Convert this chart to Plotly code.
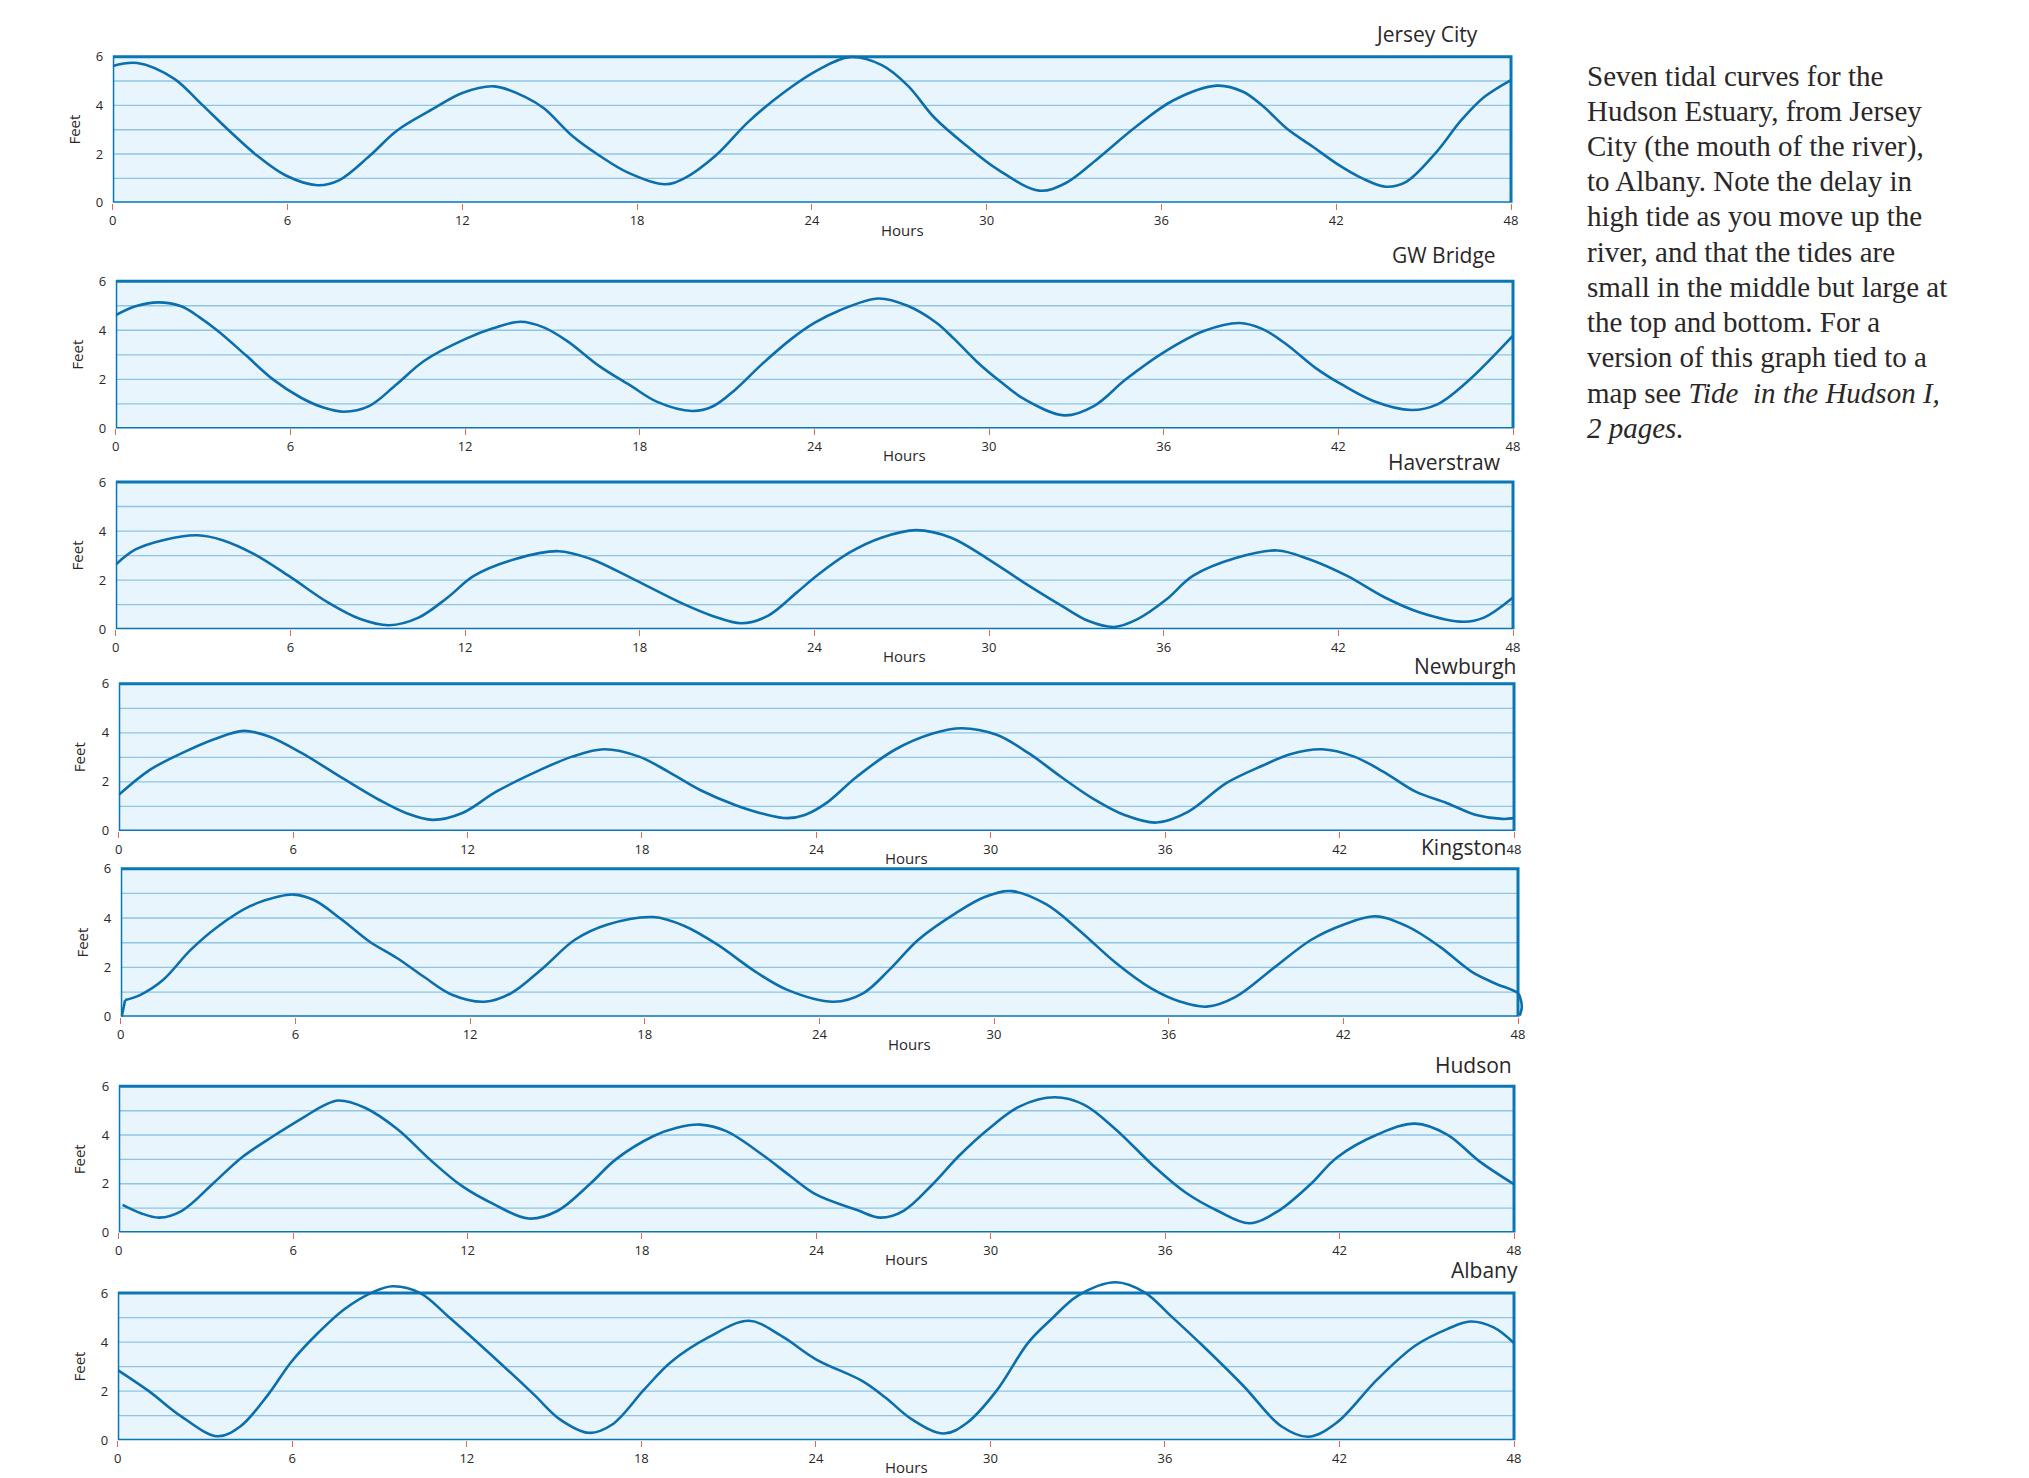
import plotly.graph_objects as go

W, H = 2029, 1478

# ---- data -------------------------------------------------------------
hours_ticks = [0, 6, 12, 18, 24, 30, 36, 42, 48]
feet_ticks = [0, 2, 4, 6]
feet_grid = [1, 2, 3, 4, 5]

stations = ["Jersey City", "GW Bridge", "Haverstraw", "Newburgh",
            "Kingston", "Hudson", "Albany"]

jersey_city_t = [0, 0.84, 2.1, 3.0, 3.96, 4.95, 5.94, 7.03, 7.76, 8.83, 9.74,
                 10.96, 12.0, 13.1, 14.2, 14.8, 15.8, 16.7, 17.65, 18.95, 19.6,
                 20.7, 21.8, 23.0, 24.2, 25.3, 26.4, 27.3, 28.2, 29.3, 30.4,
                 31.8, 32.7, 33.8, 35.1, 36.4, 37.9, 38.8, 39.5, 40.3, 41.2,
                 42.0, 42.9, 43.7, 44.4, 45.4, 46.3, 47.1, 48]
jersey_city_ft = [5.62, 5.74, 5.1, 4.1, 3.0, 1.94, 1.12, 0.72, 0.92, 1.94, 2.95,
                  3.83, 4.51, 4.78, 4.32, 3.88, 2.72, 1.94, 1.26, 0.76, 0.99,
                  1.94, 3.3, 4.5, 5.45, 5.98, 5.65, 4.8, 3.5, 2.35, 1.35,
                  0.5, 0.8, 1.8, 3.1, 4.2, 4.81, 4.56, 3.95, 3.05, 2.3,
                  1.62, 1.0, 0.66, 0.86, 2.03, 3.4, 4.36, 5.04]

gw_bridge_t = [0, 0.68, 1.46, 2.25, 2.88, 3.5, 4.46, 5.4, 6.35, 7.13, 7.84, 8.7,
               9.65, 10.6, 12.0, 12.96, 13.9, 14.7, 15.5, 16.6, 17.7, 18.6, 19.8,
               20.5, 21.3, 22.2, 23.2, 24.0, 24.84, 26.2, 27.2, 28.2, 28.8, 29.6,
               30.4, 31.2, 32.6, 33.6, 34.7, 36.0, 37.4, 38.6, 39.4, 40.2, 41.2,
               42.1, 43.2, 44.5, 45.4, 46.4, 48]
gw_bridge_ft = [4.62, 4.98, 5.14, 4.98, 4.53, 3.98, 2.99, 2.0, 1.26, 0.85, 0.68, 0.91,
                1.8, 2.76, 3.64, 4.08, 4.35, 4.12, 3.57, 2.55, 1.73, 1.08, 0.71,
                0.89, 1.6, 2.62, 3.64, 4.3, 4.8, 5.3, 5.0, 4.3, 3.65, 2.7,
                1.9, 1.2, 0.53, 0.91, 2.0, 3.1, 3.98, 4.3, 4.05, 3.44, 2.48,
                1.8, 1.12, 0.75, 0.98, 1.87, 3.78]

haverstraw_t = [0, 0.68, 1.62, 2.8, 3.67, 4.77, 6.03, 7.3, 8.4, 9.4, 10.4, 11.4,
                12.3, 13.7, 15.2, 16.3, 17.8, 19.4, 20.5, 21.5, 22.4, 23.4, 24.1,
                25.2, 26.3, 27.5, 28.7, 29.9, 31.2, 32.5, 33.4, 34.3, 35.1, 36.1,
                37.0, 38.5, 39.9, 41.0, 42.3, 43.6, 44.8, 46.3, 47.0, 48]
haverstraw_ft = [2.64, 3.25, 3.63, 3.83, 3.63, 3.05, 2.1, 1.08, 0.41, 0.16, 0.47, 1.29,
                 2.17, 2.85, 3.18, 2.87, 2.03, 1.08, 0.54, 0.24, 0.54, 1.5, 2.2,
                 3.12, 3.73, 4.04, 3.73, 2.91, 1.9, 0.95, 0.34, 0.09, 0.41, 1.22,
                 2.17, 2.91, 3.21, 2.85, 2.17, 1.29, 0.68, 0.3, 0.47, 1.29]

newburgh_t = [0, 1.07, 2.17, 3.28, 4.3, 5.17, 6.3, 7.7, 8.95, 9.9, 10.8, 11.8,
              13.0, 14.5, 15.6, 16.7, 17.9, 18.9, 20.0, 21.2, 22.2, 23.0, 23.6,
              24.3, 25.4, 26.7, 28.0, 29.0, 30.2, 31.3, 32.4, 33.5, 34.6, 35.7,
              36.8, 38.1, 39.4, 40.3, 41.4, 42.5, 43.5, 44.6, 45.7, 46.7, 47.6, 48]
newburgh_ft = [1.47, 2.49, 3.17, 3.74, 4.08, 3.85, 3.17, 2.15, 1.27, 0.72, 0.45, 0.72,
               1.61, 2.49, 3.03, 3.33, 3.03, 2.42, 1.67, 1.06, 0.69, 0.52, 0.65,
               1.1, 2.22, 3.31, 3.97, 4.19, 3.92, 3.17, 2.22, 1.33, 0.65, 0.34,
               0.79, 1.95, 2.69, 3.13, 3.33, 3.03, 2.42, 1.61, 1.13, 0.65, 0.49, 0.52]

kingston_t = [0.03, 0.15, 0.66, 1.45, 2.4, 3.34, 4.44, 5.39, 5.94, 6.65, 7.6, 8.54,
              9.5, 10.4, 11.4, 12.5, 13.4, 14.5, 15.6, 16.7, 18.3, 19.4, 20.5,
              21.8, 22.9, 24.5, 25.5, 26.4, 27.4, 28.7, 29.7, 30.6, 31.8, 32.9,
              34.2, 35.4, 36.4, 37.3, 38.3, 39.6, 40.9, 42.0, 43.1, 44.2, 45.3,
              46.4, 47.2, 48, 48.08, 48.13, 48.06]
kingston_ft = [0, 0.68, 0.88, 1.49, 2.71, 3.66, 4.48, 4.86, 4.95, 4.72, 3.93, 3.05,
               2.37, 1.63, 0.88, 0.61, 0.95, 1.97, 3.12, 3.73, 4.04, 3.66, 2.92,
               1.83, 1.09, 0.61, 0.95, 1.9, 3.12, 4.21, 4.86, 5.09, 4.55, 3.53,
               2.17, 1.15, 0.61, 0.41, 0.81, 1.97, 3.12, 3.73, 4.07, 3.66, 2.85,
               1.83, 1.36, 0.95, 0.75, 0.4, 0.05]

hudson_t = [0.13, 0.76, 1.39, 2.17, 3.28, 4.22, 5.32, 6.43, 7.06, 7.56, 8.47, 9.6,
            10.7, 11.8, 12.9, 14.1, 15.1, 16.2, 17.1, 18.4, 19.2, 20.0, 20.9,
            22.2, 23.1, 24.0, 25.4, 26.2, 27.0, 28.0, 28.9, 29.9, 31.0, 32.2,
            33.2, 34.3, 35.6, 36.7, 37.8, 38.9, 39.9, 41.0, 41.9, 43.3, 44.6,
            45.7, 46.8, 48]
hudson_ft = [1.13, 0.79, 0.61, 0.89, 2.05, 3.07, 3.96, 4.78, 5.22, 5.42, 5.12, 4.23,
             3.0, 1.91, 1.16, 0.57, 0.89, 1.98, 3.0, 3.96, 4.3, 4.43, 4.16,
             3.14, 2.32, 1.55, 0.92, 0.61, 0.89, 1.98, 3.14, 4.23, 5.18, 5.55,
             5.25, 4.23, 2.73, 1.64, 0.89, 0.38, 0.89, 1.98, 3.07, 4.02, 4.47,
             4.02, 2.93, 1.98]

albany_t = [0, 1.07, 2.17, 3.43, 4.22, 5.17, 5.95, 6.9, 7.8, 8.79, 9.45, 10.4,
            11.4, 13.0, 14.3, 15.2, 16.2, 17.0, 18.1, 19.0, 20.3, 21.7, 22.8,
            24.0, 25.6, 26.4, 27.3, 28.4, 29.2, 30.2, 31.3, 32.1, 33.0, 34.3,
            35.3, 36.2, 37.3, 38.7, 40.0, 40.95, 41.9, 43.3, 44.6, 45.7, 46.5,
            47.3, 48]
albany_ft = [2.86, 2.0, 0.98, 0.16, 0.57, 1.86, 3.17, 4.39, 5.35, 6.05, 6.28, 6.0,
             5.0, 3.3, 1.87, 0.85, 0.3, 0.64, 2.07, 3.17, 4.19, 4.87, 4.26,
             3.3, 2.41, 1.73, 0.85, 0.27, 0.71, 2.0, 3.98, 4.94, 5.89, 6.44,
             6.03, 5.07, 3.85, 2.21, 0.57, 0.14, 0.71, 2.48, 3.85, 4.53, 4.84,
             4.6, 3.96]

series_t = [jersey_city_t, gw_bridge_t, haverstraw_t, newburgh_t,
            kingston_t, hudson_t, albany_t]
series_ft = [jersey_city_ft, gw_bridge_ft, haverstraw_ft, newburgh_ft,
             kingston_ft, hudson_ft, albany_ft]

caption_lines = [
    "Seven tidal curves for the",
    "Hudson Estuary, from Jersey",
    "City (the mouth of the river),",
    "to Albany. Note the delay in",
    "high tide as you move up the",
    "river, and that the tides are",
    "small in the middle but large at",
    "the top and bottom. For a",
    "version of this graph tied to a",
    "map see <i>Tide  in the Hudson I,</i>",
    "<i>2 pages.</i>",
]

# ---- layout geometry (page pixels) -----------------------------------
# panel frame: left, right, top, bottom
panels = [
    (109, 1510, 57, 204),
    (112, 1512, 283, 431),
    (112, 1512, 485, 633),
    (115, 1513, 688, 836),
    (117, 1517, 874, 1023),
    (115, 1513, 1093, 1240),
    (114, 1513, 1301, 1449),
]
# right edge and vertical centre of each station name
title_pos = [(1479, 34), (1497, 257), (1502, 465), (1517, 670),
             (1507, 852), (1513, 1072), (1519, 1278)]

X_MAX, Y_MAX = 48, 6
XPAD, YPAD = 0.3, 0.7

BORDER = "#0a77b4"
CURVE = "#0b6fae"
FILL = "#e8f5fc"
GRID = "#8fc4e4"
TICK = "#e8654f"
TEXT = "#2b2728"
SANS = "Open Sans, Noto Sans, sans-serif"
SERIF = "Liberation Serif, DejaVu Serif, serif"


def px(x):
    return x / W


def py(y):
    return 1 - y / H


fig = go.Figure()
layout = dict(
    width=W, height=H,
    margin=dict(l=0, r=0, t=0, b=0),
    paper_bgcolor="white", plot_bgcolor="rgba(0,0,0,0)",
    showlegend=False,
)
shapes, annotations = [], []

for i, (name, t, ft, (L, R, T, B), (tx, ty)) in enumerate(
        zip(stations, series_t, series_ft, panels, title_pos)):
    n = i + 1
    xa, ya = f"x{n}", f"y{n}"
    xkey = "xaxis" if n == 1 else f"xaxis{n}"
    ykey = "yaxis" if n == 1 else f"yaxis{n}"

    x_right_px = L + (R - L) * (X_MAX + XPAD) / X_MAX
    y_top_px = B - (B - T) * (Y_MAX + YPAD) / Y_MAX

    layout[xkey] = dict(
        domain=[px(L), px(x_right_px)], range=[0, X_MAX + XPAD],
        anchor=ya, tickvals=hours_ticks, ticks="outside", ticklen=6,
        tickwidth=1.3, tickcolor=TICK, showgrid=False, zeroline=False,
        showline=False, tickfont=dict(family=SANS, size=13, color=TEXT),
        fixedrange=True,
    )
    layout[ykey] = dict(
        domain=[py(B), py(y_top_px)], range=[0, Y_MAX + YPAD],
        anchor=xa, tickvals=feet_ticks, ticks="outside", ticklen=6,
        tickcolor="rgba(0,0,0,0)", showgrid=False, zeroline=False,
        showline=False, tickfont=dict(family=SANS, size=13, color=TEXT),
        fixedrange=True,
    )

    # panel background, grid and frame
    shapes.append(dict(type="rect", xref=xa, yref=ya, x0=0, x1=X_MAX, y0=0, y1=Y_MAX,
                       fillcolor=FILL, line=dict(width=0), layer="below"))
    for g in feet_grid:
        shapes.append(dict(type="line", xref=xa, yref=ya, x0=0, x1=X_MAX, y0=g, y1=g,
                           line=dict(color=GRID, width=1.4), layer="below"))
    shapes.append(dict(type="rect", xref=xa, yref=ya, x0=0, x1=X_MAX, y0=0, y1=Y_MAX,
                       fillcolor="rgba(0,0,0,0)", line=dict(color=BORDER, width=3),
                       layer="below"))

    # tide curve
    if name == "Kingston":
        fig.add_trace(go.Scatter(x=t[:2], y=ft[:2], mode="lines", xaxis=xa, yaxis=ya,
                                 line=dict(color=CURVE, width=2.6), hoverinfo="skip"))
        fig.add_trace(go.Scatter(x=t[1:], y=ft[1:], mode="lines", xaxis=xa, yaxis=ya,
                                 line=dict(color=CURVE, width=2.6, shape="spline",
                                           smoothing=1.0), hoverinfo="skip"))
    else:
        fig.add_trace(go.Scatter(x=t, y=ft, mode="lines", xaxis=xa, yaxis=ya,
                                 line=dict(color=CURVE, width=2.6, shape="spline",
                                           smoothing=1.0), hoverinfo="skip"))

    # station name
    annotations.append(dict(text=name, xref="paper", yref="paper", x=px(tx), y=py(ty),
                            xanchor="right", yanchor="middle", showarrow=False,
                            font=dict(family=SANS, size=21, color=TEXT)))
    # axis titles
    annotations.append(dict(text="Hours", xref=xa, yref=ya, x=27.1, y=0, yshift=-27,
                            xanchor="center", yanchor="middle", showarrow=False,
                            font=dict(family=SANS, size=15, color=TEXT)))
    annotations.append(dict(text="Feet", xref="paper", yref="paper", x=px(L - 39),
                            y=py((T + B) / 2), textangle=-90, xanchor="center",
                            yanchor="middle", showarrow=False,
                            font=dict(family=SANS, size=15, color=TEXT)))

# caption block on the right
for k, line in enumerate(caption_lines):
    annotations.append(dict(text=line, xref="paper", yref="paper", x=px(1584),
                            y=py(76 + 35.45 * k), xanchor="left", yanchor="middle",
                            showarrow=False, align="left",
                            font=dict(family=SERIF, size=29, color=TEXT)))

layout["shapes"] = shapes
layout["annotations"] = annotations
fig.update_layout(**layout)

fig.write_html("out.html")
